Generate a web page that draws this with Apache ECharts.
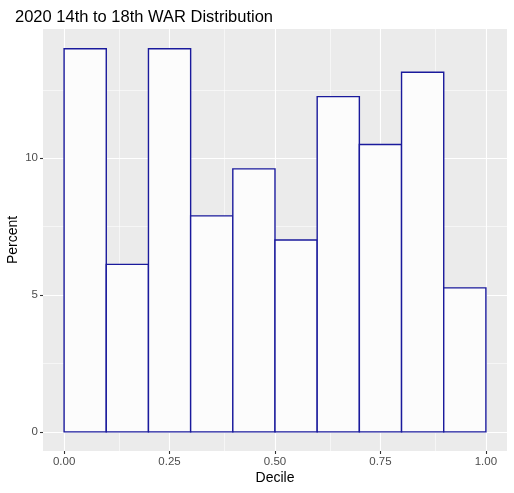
<!DOCTYPE html>
<html><head><meta charset="utf-8">
<script src="https://cdn.jsdelivr.net/npm/echarts@6/dist/echarts.min.js"></script>
<style>html,body{margin:0;padding:0;background:#fff}#c{width:514px;height:493px}</style>
</head><body><div id="c"></div>
<script>
const binStarts = [0.0, 0.1, 0.2, 0.3, 0.4, 0.5, 0.6, 0.7, 0.8, 0.9];
const binWidth = 0.1;
const percents = [14.0, 6.12, 14.0, 7.89, 9.61, 7.01, 12.25, 10.5, 13.14, 5.26];
const xTicks = [0, 0.25, 0.5, 0.75, 1.0];
const xTickLabels = ['0.00', '0.25', '0.50', '0.75', '1.00'];
const xMinor = [0.125, 0.375, 0.625, 0.875];
const yTicks = [0, 5, 10];
const yTickLabels = ['0', '5', '10'];
const yMinor = [2.5, 7.5, 12.5];

const chart = echarts.init(document.getElementById('c'), null, {renderer: 'canvas'});
const bars = binStarts.map((s, i) => [s, s + binWidth, percents[i]]);
const gridLines = [];
xTicks.forEach(v => gridLines.push({xAxis: v, lineStyle: {color: '#fff', width: 1.1, type: 'solid'}}));
xMinor.forEach(v => gridLines.push({xAxis: v, lineStyle: {color: '#fff', width: 0.55, type: 'solid'}}));
yTicks.forEach(v => gridLines.push({yAxis: v, lineStyle: {color: '#fff', width: 1.1, type: 'solid'}}));
yMinor.forEach(v => gridLines.push({yAxis: v, lineStyle: {color: '#fff', width: 0.55, type: 'solid'}}));

chart.setOption({
  animation: false,
  title: {text: '2020 14th to 18th WAR Distribution', left: 10, top: 4,
    textStyle: {fontFamily: 'Liberation Sans, Arial, sans-serif', fontSize: 16.5, fontWeight: 'normal', color: '#000'}},
  grid: {left: 43, right: 7, top: 29, bottom: 42, show: true, backgroundColor: '#EBEBEB', borderWidth: 0,
    containLabel: false, outerBoundsMode: 'none'},
  xAxis: {type: 'value', min: -0.05, max: 1.05,
    name: 'Decile', nameLocation: 'middle', nameGap: 20, nameMoveOverlap: false,
    nameTextStyle: {fontFamily: 'Liberation Sans, Arial, sans-serif', fontSize: 14, color: '#000'},
    axisLine: {show: true, onZero: false, lineStyle: {color: 'rgba(0,0,0,0)'}},
    axisTick: {show: true, customValues: xTicks, length: 3, lineStyle: {color: '#333', width: 1.1}},
    axisLabel: {customValues: xTicks, formatter: v => xTickLabels[xTicks.indexOf(v)] ?? '', margin: 5,
      fontFamily: 'Liberation Sans, Arial, sans-serif', fontSize: 11.5, color: '#4D4D4D'},
    splitLine: {show: false}},
  yAxis: {type: 'value', min: -0.7, max: 14.72,
    name: 'Percent', nameLocation: 'middle', nameGap: 23, nameRotate: 90, nameMoveOverlap: false,
    nameTextStyle: {fontFamily: 'Liberation Sans, Arial, sans-serif', fontSize: 14, color: '#000'},
    axisLine: {show: true, onZero: false, lineStyle: {color: 'rgba(0,0,0,0)'}},
    axisTick: {show: true, customValues: yTicks, length: 3, lineStyle: {color: '#333', width: 1.1}},
    axisLabel: {customValues: yTicks, formatter: v => yTickLabels[yTicks.indexOf(v)] ?? '', margin: 5,
      fontFamily: 'Liberation Sans, Arial, sans-serif', fontSize: 11.5, color: '#4D4D4D'},
    splitLine: {show: false}},
  series: [
    {type: 'line', data: [], z: 1, silent: true,
      markLine: {symbol: 'none', silent: true, label: {show: false}, animation: false, data: gridLines}},
    {type: 'custom', z: 5, data: bars,
      renderItem: function (params, api) {
        const p0 = api.coord([api.value(0), 0]);
        const p1 = api.coord([api.value(1), api.value(2)]);
        return {type: 'rect',
          shape: {x: p0[0], y: p1[1], width: p1[0] - p0[0], height: p0[1] - p1[1]},
          style: {fill: '#FCFCFC', stroke: '#1A1A9C', lineWidth: 1.4}};
      }}
  ]
});
</script></body></html>
